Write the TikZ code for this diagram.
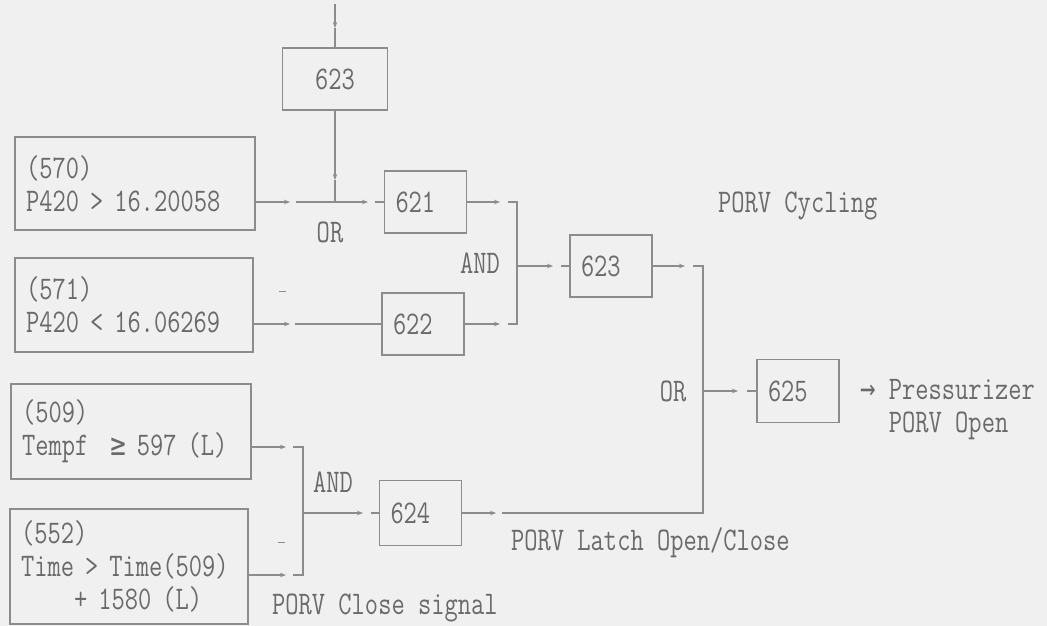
\documentclass[tikz,border=0pt]{standalone}
\usepackage{fontspec}
\setmainfont[FakeStretch=0.78]{Latin Modern Mono}
\newfontfamily\symf[FakeStretch=0.78]{DejaVu Sans Mono}
\usetikzlibrary{arrows.meta}
\definecolor{bg}{HTML}{F0F0F0}
\definecolor{ink}{HTML}{6A6A6A}
\definecolor{wire}{HTML}{8C8C8C}
\begin{document}
\begin{tikzpicture}[x=1pt,y=-1pt,
  every node/.style={text=ink,font=\fontsize{33}{33}\selectfont},
  box/.style={draw=wire,line width=1.4pt,inner xsep=11pt,inner ysep=0pt,align=left},
  numbox/.style={box,minimum height=62pt,text width=60pt},
  ln/.style={draw=wire,line width=1.4pt},
  arr/.style={ln,-{Stealth[length=6pt,width=4.5pt]}},
  lbl/.style={inner sep=0pt}]
\fill[bg] (0,0) rectangle (1047,626);
\useasboundingbox (0,0) rectangle (1047,626);
% boxes
\node[box,minimum width=105pt,minimum height=62pt,align=center,inner xsep=0pt] (t623) at (335,79) {623};
\node[box,text width=218pt,minimum height=93pt] (b570) at (135,183.5) {(570)\\P420 > 16.20058};
\node[box,text width=216pt,minimum height=94pt] (b571) at (134,305) {(571)\\P420 < 16.06269};
\node[box,text width=218pt,minimum height=95pt] (b509) at (131,431.5) {(509)\\Tempf~~{\symf ≥} 597 (L)};
\node[box,text width=216pt,minimum height=115pt] (b552) at (129,566.5) {(552)\\Time > Time(509)\\\phantom{Time}+ 1580 (L)};
\node[numbox,minimum width=81pt] (b621) at (425.5,202) {621};
\node[numbox,minimum width=80pt] (b622) at (423,324) {622};
\node[numbox,minimum width=82pt] (m623) at (611,266) {623};
\node[numbox,minimum width=81pt,minimum height=65pt] (b624) at (420.5,513) {624};
\node[numbox,minimum width=82pt,minimum height=63pt] (b625) at (798,391) {625};
% coordinates
\coordinate (top0) at (335,4);
\coordinate (topA) at (335,28);
\coordinate (a1) at (335,180);
\coordinate (j1) at (335,202);
\coordinate (r1a) at (290,202);
\coordinate (r1b) at (296,202);
\coordinate (r1c) at (368,202);
\coordinate (r1d) at (375,202);
\coordinate (r2a) at (290,324);
\coordinate (r2b) at (295,324);
\coordinate (r3a) at (500,202);
\coordinate (r3b) at (508,202);
\coordinate (v1t) at (517,202);
\coordinate (v1m) at (517,266);
\coordinate (v1b) at (517,324);
\coordinate (r3c) at (508,324);
\coordinate (r3d) at (500,324);
\coordinate (r4a) at (553,266);
\coordinate (r4b) at (561,266);
\coordinate (r5a) at (685,266);
\coordinate (r5b) at (693,266);
\coordinate (v2t) at (703,266);
\coordinate (v2m) at (703,391);
\coordinate (v2b) at (703,513);
\coordinate (r7a) at (496,513);
\coordinate (r7b) at (502,513);
\coordinate (r8a) at (738,391);
\coordinate (r8b) at (747,391);
\coordinate (l1a) at (286,447);
\coordinate (l1b) at (293,447);
\coordinate (v3t) at (303,447);
\coordinate (v3m) at (303,513);
\coordinate (v3b) at (303,575);
\coordinate (l2b) at (293,575);
\coordinate (l2a) at (286,575);
\coordinate (l3a) at (363,513);
\coordinate (l3b) at (371,513);
% top input
\draw[arr] (top0) -- (topA);
\draw[ln] (topA) -- (t623.north);
\draw[arr] (t623.south) -- (a1);
\draw[ln] (a1) -- (j1);
% row 1 (OR)
\draw[arr] (b570.east |- j1) -- (r1a);
\draw[arr] (r1b) -- (j1) -- (r1c);
\draw[ln] (r1d) -- (b621.west);
% row 2
\draw[arr] (b571.east |- r2a) -- (r2a);
\draw[ln] (r2b) -- (b622.west);
% AND 621/622
\draw[arr] (b621.east) -- (r3a);
\draw[arr] (b622.east) -- (r3d);
\draw[ln] (r3b) -- (v1t) -- (v1b) -- (r3c);
\draw[arr] (v1m) -- (r4a);
\draw[ln] (r4b) -- (m623.west);
% 623 to OR
\draw[arr] (m623.east) -- (r5a);
\draw[ln] (r5b) -- (v2t) -- (v2b) -- (r7b);
\draw[arr] (v2m) -- (r8a);
\draw[ln] (r8b) -- (b625.west);
% lower AND
\draw[arr] (b509.east |- l1a) -- (l1a);
\draw[arr] (b552.east |- l2a) -- (l2a);
\draw[ln] (l1b) -- (v3t) -- (v3b) -- (l2b);
\draw[arr] (v3m) -- (l3a);
\draw[ln] (l3b) -- (b624.west);
\draw[arr] (b624.east) -- (r7a);
% stray marks
\draw[ln,line width=1pt] (279,291) -- (286,291);
\draw[ln,line width=1pt] (278,542) -- (285,542);
% labels
\node[lbl] (lor1) at (330,232) {OR};
\node[lbl] (land1) at (480,263) {AND};
\node[lbl] (land2) at (333,482) {AND};
\node[lbl] (lor2) at (673,391) {OR};
\node[lbl,anchor=west] (lcyc) at (718,206) {PORV Cycling};
\node[lbl,anchor=west] (llat) at (511,543) {PORV Latch Open/Close};
\node[lbl,anchor=west] (lcls) at (272,608) {PORV Close signal};
\node[lbl,anchor=west,align=left] (lout) at (860,410) {{\symf →} Pressurizer\\\phantom{{\symf →} }PORV Open};
\end{tikzpicture}
\end{document}
